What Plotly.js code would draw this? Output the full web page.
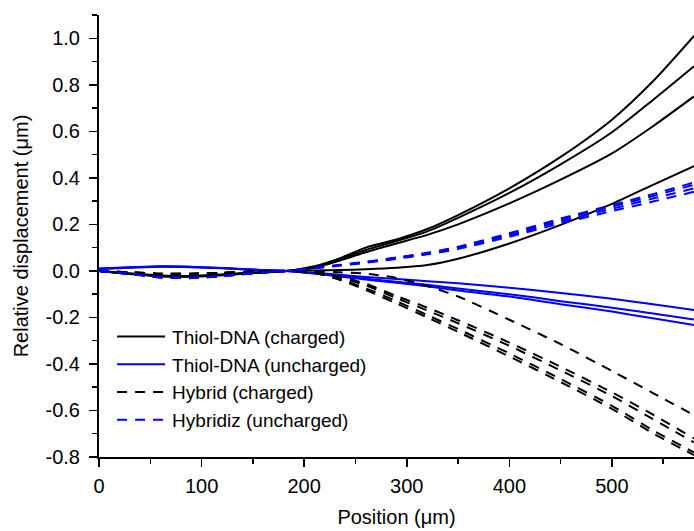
<!DOCTYPE html>
<html>
<head>
<meta charset="utf-8">
<script src="https://cdn.plot.ly/plotly-3.0.1.min.js"></script>
<style>html,body{margin:0;padding:0;background:#fff;}</style>
</head>
<body>
<div id="chart" style="width:694px;height:531px;"></div>
<script>
// Positions along the cantilever (µm)
const positions = [0, 30, 60, 90, 120, 150, 183, 210, 235, 260, 290, 320, 350, 400, 450, 500, 540, 580];

// Thiol-DNA (charged) - black solid
const thiolChargedA = [0, -0.012, -0.022, -0.024, -0.018, -0.008, 0, 0.02, 0.055, 0.1, 0.135, 0.18, 0.24, 0.355, 0.49, 0.65, 0.815, 1.01];
const thiolChargedB = [0, -0.012, -0.021, -0.023, -0.017, -0.008, 0, 0.016, 0.05, 0.09, 0.128, 0.17, 0.228, 0.335, 0.458, 0.596, 0.735, 0.88];
const thiolChargedC = [0, -0.011, -0.02, -0.022, -0.016, -0.007, 0, 0.013, 0.045, 0.08, 0.118, 0.155, 0.2, 0.29, 0.392, 0.505, 0.622, 0.75];
const thiolChargedD = [0, -0.013, -0.024, -0.025, -0.019, -0.009, 0, 0.002, 0.004, 0.007, 0.013, 0.025, 0.052, 0.118, 0.198, 0.288, 0.37, 0.45];

// Thiol-DNA (uncharged) - blue solid
const thiolUnchargedA = [0.008, 0.014, 0.018, 0.016, 0.011, 0.005, 0, -0.008, -0.017, -0.026, -0.035, -0.044, -0.053, -0.072, -0.095, -0.12, -0.143, -0.168];
const thiolUnchargedB = [0.009, 0.015, 0.019, 0.017, 0.012, 0.005, 0, -0.01, -0.022, -0.034, -0.047, -0.06, -0.076, -0.1, -0.13, -0.158, -0.183, -0.209];
const thiolUnchargedC = [0.01, 0.016, 0.02, 0.018, 0.012, 0.006, 0, -0.011, -0.024, -0.037, -0.051, -0.066, -0.084, -0.11, -0.143, -0.175, -0.204, -0.233];

// Hybrid (charged) - black dashed
const hybridChargedU = [0, -0.006, -0.012, -0.012, -0.008, -0.003, 0, -0.002, -0.006, -0.012, -0.03, -0.065, -0.11, -0.21, -0.315, -0.43, -0.525, -0.62];
const hybridCharged1 = [0, -0.006, -0.012, -0.012, -0.008, -0.003, 0, -0.005, -0.025, -0.055, -0.108, -0.158, -0.212, -0.308, -0.412, -0.522, -0.618, -0.72];
const hybridCharged2 = [0, -0.006, -0.012, -0.012, -0.008, -0.003, 0, -0.006, -0.029, -0.062, -0.117, -0.17, -0.225, -0.322, -0.428, -0.538, -0.637, -0.737];
const hybridCharged3 = [0, -0.007, -0.013, -0.013, -0.009, -0.003, 0, -0.008, -0.035, -0.075, -0.13, -0.19, -0.25, -0.355, -0.465, -0.58, -0.685, -0.78];
const hybridCharged4 = [0, -0.007, -0.013, -0.013, -0.009, -0.003, 0, -0.009, -0.039, -0.082, -0.14, -0.2, -0.262, -0.368, -0.478, -0.593, -0.698, -0.792];

// Hybridiz (uncharged) - blue dashed
const hybridUncharged1 = [0, -0.012, -0.027, -0.03, -0.022, -0.01, 0, 0.013, 0.026, 0.039, 0.058, 0.078, 0.104, 0.162, 0.225, 0.283, 0.33, 0.38];
const hybridUncharged2 = [0, -0.012, -0.027, -0.03, -0.022, -0.01, 0, 0.012, 0.025, 0.038, 0.056, 0.076, 0.101, 0.158, 0.219, 0.276, 0.322, 0.37];
const hybridUncharged3 = [0, -0.013, -0.028, -0.031, -0.023, -0.01, 0, 0.012, 0.024, 0.037, 0.054, 0.074, 0.098, 0.153, 0.212, 0.267, 0.311, 0.355];
const hybridUncharged4 = [0, -0.013, -0.028, -0.031, -0.023, -0.01, 0, 0.011, 0.023, 0.035, 0.052, 0.071, 0.094, 0.147, 0.204, 0.257, 0.298, 0.34];

// Ticks
const xTickVals = [0, 100, 200, 300, 400, 500];
const xTickText = ["0", "100", "200", "300", "400", "500"];
const yTickVals = [-0.8, -0.6, -0.4, -0.2, 0, 0.2, 0.4, 0.6, 0.8, 1.0];
const yTickText = ["-0.8", "-0.6", "-0.4", "-0.2", "0.0", "0.2", "0.4", "0.6", "0.8", "1.0"];

const groups = [
  {name: "Thiol-DNA (charged)", color: "#000000", dash: "solid", series: [thiolChargedA, thiolChargedB, thiolChargedC, thiolChargedD]},
  {name: "Thiol-DNA (uncharged)", color: "#0000FF", dash: "solid", series: [thiolUnchargedA, thiolUnchargedB, thiolUnchargedC]},
  {name: "Hybrid (charged)", color: "#000000", dash: "10px,8px", series: [hybridChargedU, hybridCharged1, hybridCharged2, hybridCharged3, hybridCharged4]},
  {name: "Hybridiz (uncharged)", color: "#0000FF", dash: "10px,8px", series: [hybridUncharged1, hybridUncharged2, hybridUncharged3, hybridUncharged4]}
];

const traces = [];
groups.forEach((g, gi) => {
  g.series.forEach((ys, si) => {
    traces.push({
      x: positions, y: ys, type: "scatter", mode: "lines",
      name: g.name, legendgroup: "g" + gi, showlegend: si === 0,
      line: {color: g.color, width: 2, dash: g.dash, shape: "spline", smoothing: 0.7}
    });
  });
});

const fontFam = "Liberation Sans, Arial, sans-serif";
const layout = {
  width: 694, height: 531,
  margin: {l: 99, r: 0, t: 15, b: 74},
  paper_bgcolor: "#ffffff", plot_bgcolor: "#ffffff",
  font: {family: fontFam, color: "#000", size: 20},
  showlegend: true,
  legend: {x: 0.022, y: 0.315, xanchor: "left", yanchor: "top", bgcolor: "rgba(0,0,0,0)",
           font: {family: fontFam, size: 19, color: "#000"}, tracegroupgap: 0, itemwidth: 50},
  xaxis: {
    range: [0, 580], tickmode: "array", tickvals: xTickVals, ticktext: xTickText,
    ticks: "outside", ticklen: 8, tickwidth: 1.5, tickcolor: "#000",
    showline: true, linewidth: 2, linecolor: "#000", showgrid: false, zeroline: false,
    minor: {ticks: "outside", ticklen: 5, tickwidth: 1.5, tickcolor: "#000", dtick: 50, tick0: 0, showgrid: false},
    tickfont: {size: 20, family: fontFam}, ticklabelstandoff: 2,
    title: {text: "Position (μm)", font: {size: 20, family: fontFam}, standoff: 14}
  },
  yaxis: {
    range: [-0.8, 1.1], tickmode: "array", tickvals: yTickVals, ticktext: yTickText,
    ticks: "outside", ticklen: 8, tickwidth: 1.5, tickcolor: "#000",
    showline: true, linewidth: 2, linecolor: "#000", showgrid: false, zeroline: false,
    minor: {ticks: "outside", ticklen: 5, tickwidth: 1.5, tickcolor: "#000", dtick: 0.1, tick0: 0, showgrid: false},
    tickfont: {size: 20, family: fontFam}, ticklabelstandoff: 5,
    title: {text: "Relative displacement (μm)", font: {size: 20, family: fontFam}, standoff: 12}
  }
};

Plotly.newPlot("chart", traces, layout, {displayModeBar: false, staticPlot: true}).then(function (gd) {
  // lengthen legend line samples to match the reference
  gd.querySelectorAll(".legend .legendlines path").forEach(function (p) {
    p.setAttribute("d", "M5,0h48");
  });
});
</script>
</body>
</html>
